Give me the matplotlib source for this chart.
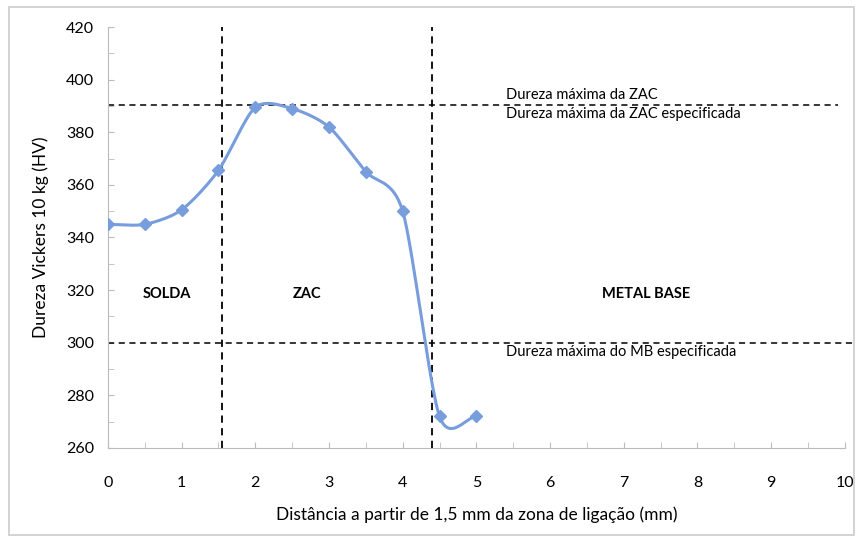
import numpy as np
import matplotlib.pyplot as plt
from matplotlib.patches import Rectangle

plt.rcParams['font.family'] = ['Lato', 'DejaVu Sans']

# hardness profile
dist = [0, 0.5, 1, 1.5, 2, 2.5, 3, 3.5, 4, 4.5, 5]
hv = [345, 345, 350.5, 365.5, 389.5, 389, 382, 365, 350, 272, 272]

zone_limits = [1.55, 4.4]        # SOLDA | ZAC | METAL BASE
hv_limits = [390.5, 300]         # max ZAC, max MB
zone_names = ['SOLDA', 'ZAC', 'METAL BASE']
zone_x = [0.8, 2.7, 7.3]


def smooth(x, y, n=30, k=0.8):
    """Cubic Hermite curve through the points (like Excel's smoothed line)."""
    x = np.asarray(x, float)
    y = np.asarray(y, float)
    px = np.concatenate([[2 * x[0] - x[1]], x, [2 * x[-1] - x[-2]]])
    py = np.concatenate([[2 * y[0] - y[1]], y, [2 * y[-1] - y[-2]]])
    pts = np.column_stack([px, py])
    t = np.linspace(0, 1, n)
    h00 = 2 * t ** 3 - 3 * t ** 2 + 1
    h10 = t ** 3 - 2 * t ** 2 + t
    h01 = -2 * t ** 3 + 3 * t ** 2
    h11 = t ** 3 - t ** 2
    xs, ys = [], []
    for i in range(1, len(pts) - 2):
        m1 = k * 0.5 * (pts[i + 1] - pts[i - 1])
        m2 = k * 0.5 * (pts[i + 2] - pts[i])
        c = (np.outer(h00, pts[i]) + np.outer(h10, m1)
             + np.outer(h01, pts[i + 1]) + np.outer(h11, m2))
        xs.extend(c[:, 0])
        ys.extend(c[:, 1])
    return xs, ys


fig = plt.figure(figsize=(8.63, 5.41), dpi=100)
ax = fig.add_axes([0.125, 0.172, 0.854, 0.778])

blue = '#789ddc'
sx, sy = smooth(dist, hv)
ax.plot(sx, sy, color=blue, lw=2.2, zorder=3)
ax.plot(dist, hv, ls='none', marker='D', ms=6, color=blue, zorder=4)

for xv in zone_limits:
    ax.axvline(xv, color='black', ls=(0, (4, 3)), lw=1.3)
ax.plot([0, 9.9], [hv_limits[0]] * 2, color='black', ls=(0, (4, 3)), lw=1.1, clip_on=False)
ax.plot([0, 10.15], [hv_limits[1]] * 2, color='black', ls=(0, (4, 3)), lw=1.1, clip_on=False)

ax.text(5.4, 391.5, 'Dureza máxima da ZAC', fontsize=10.5, va='bottom')
ax.text(5.4, 389.5, 'Dureza máxima da ZAC especificada', fontsize=10.5, va='top')
ax.text(5.4, 299, 'Dureza máxima do MB especificada', fontsize=10.5, va='top')
for name, xv in zip(zone_names, zone_x):
    ax.text(xv, 318.5, name, fontsize=10.5, fontweight='bold', ha='center', va='center')

ax.set_xlim(0, 10)
ax.set_ylim(260, 420)
ax.set_xticks(range(0, 11))
ax.set_yticks(range(260, 421, 20))
ax.set_xticks(np.arange(0, 10.01, 0.5), minor=True)
ax.set_yticks(range(260, 421, 10), minor=True)
ax.tick_params(which='both', direction='in', color='#bbbbbb', length=4)
ax.tick_params(axis='x', pad=20, labelsize=11.5)
ax.tick_params(axis='y', pad=10, labelsize=11.5)
for s in ['top', 'right']:
    ax.spines[s].set_visible(False)
for s in ['left', 'bottom']:
    ax.spines[s].set_color('#bbbbbb')

ax.set_xlabel('Distância a partir de 1,5 mm da zona de ligação (mm)', fontsize=12.5, labelpad=12)
ax.set_ylabel('Dureza Vickers 10 kg (HV)', fontsize=12.5, labelpad=12)

fig.patches.append(Rectangle((0.01, 0.012), 0.98, 0.975, transform=fig.transFigure,
                             fill=False, ec='#cccccc', lw=1.2))

fig.savefig('out.png', dpi=100)
